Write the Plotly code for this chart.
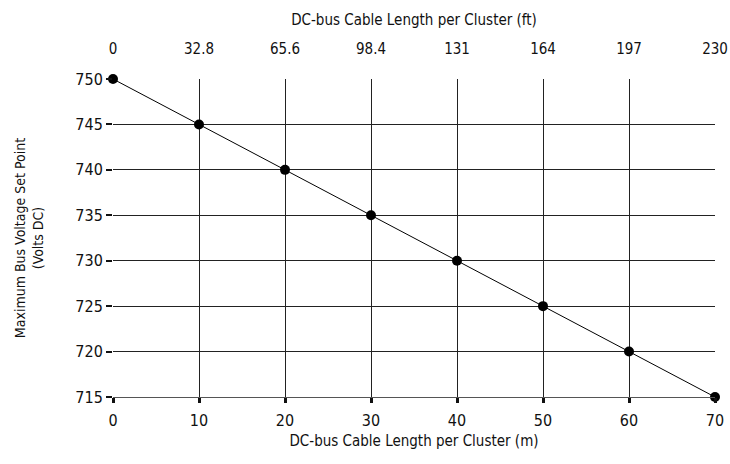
import plotly.graph_objects as go

# cable length in metres and matching voltage set point
length_m = [0, 10, 20, 30, 40, 50, 60, 70]
voltage = [750, 745, 740, 735, 730, 725, 720, 715]
# top axis labels in feet
length_ft = ["0", "32.8", "65.6", "98.4", "131", "164", "197", "230"]

font = "DejaVu Sans Condensed, Liberation Sans Narrow, sans-serif"

fig = go.Figure()
fig.add_trace(go.Scatter(x=length_m, y=voltage, mode="lines+markers",
                         line=dict(color="black", width=1),
                         marker=dict(color="black", size=10),
                         cliponaxis=False,
                         showlegend=False, hoverinfo="skip"))
# invisible trace so the top axis is drawn
fig.add_trace(go.Scatter(x=length_m, y=voltage, xaxis="x2", mode="markers",
                         marker=dict(opacity=0), showlegend=False, hoverinfo="skip"))

fig.update_layout(
    width=730, height=464,
    margin=dict(l=113, r=15, t=79, b=67),
    plot_bgcolor="white", paper_bgcolor="white",
    font=dict(family=font, size=16, color="#111"),
    xaxis=dict(range=[0, 70], tickvals=length_m, showgrid=True, automargin=False,
               gridcolor="#222", gridwidth=1, zeroline=False,
               ticks="outside", ticklen=5, tickwidth=3, tickcolor="#111",
               ticklabelstandoff=4, ticklabeloverflow="allow",
               showline=True, linecolor="#555", linewidth=1,
               title=dict(text="DC-bus Cable Length per Cluster (m)",
                          font=dict(size=15), standoff=6)),
    xaxis2=dict(range=[0, 70], overlaying="x", side="top", automargin=False,
                tickvals=length_m, ticktext=length_ft, showgrid=False,
                ticklabeloverflow="allow", tickfont=dict(size=15),
                zeroline=False, ticks="outside", ticklen=18, tickcolor="rgba(0,0,0,0)",
                title=dict(text="DC-bus Cable Length per Cluster (ft)",
                           font=dict(size=15), standoff=10)),
    yaxis=dict(range=[715, 750], dtick=5, showgrid=True, automargin=False,
               gridcolor="#222", gridwidth=1, zeroline=False,
               ticks="outside", ticklen=6, tickwidth=2, tickcolor="#111",
               title=dict(text="Maximum Bus Voltage Set Point<br>(Volts DC)",
                          font=dict(size=14), standoff=28)),
)

# drop the default page margin so the figure fills the window
fig.write_html("out.html", config={"displayModeBar": False},
               post_script="document.body.style.margin='0';")
